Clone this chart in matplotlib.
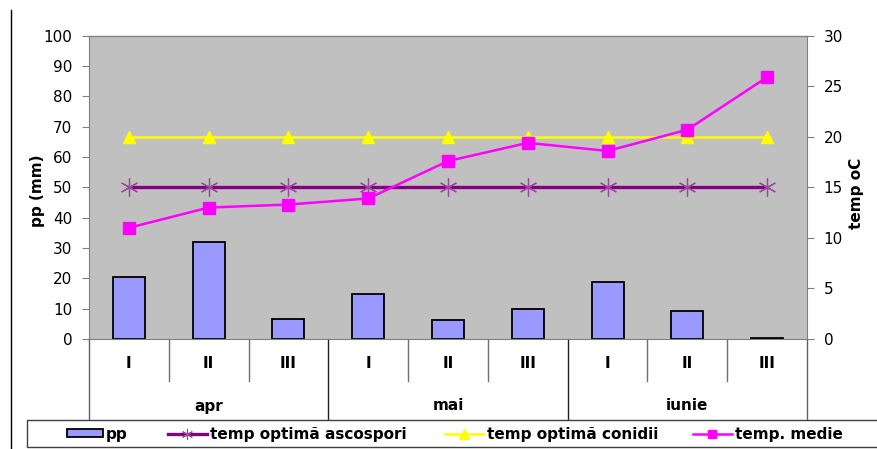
import matplotlib
matplotlib.use("Agg")
import matplotlib.pyplot as plt
from matplotlib.lines import Line2D
from matplotlib.patches import Rectangle, Patch
import matplotlib.transforms as mtransforms
import numpy as np

plt.rcParams['font.family'] = ['DejaVu Sans']

decades = ["I", "II", "III", "I", "II", "III", "I", "II", "III"]
months = ["apr", "mai", "iunie"]
pp = [20.5, 31.9, 6.5, 14.7, 6.3, 9.8, 18.7, 9.2, 0.3]
temp_ascospori = [15, 15, 15, 15, 15, 15, 15, 15, 15]
temp_conidii = [20, 20, 20, 20, 20, 20, 20, 20, 20]
temp_medie = [11.0, 13.0, 13.3, 13.9, 17.6, 19.4, 18.6, 20.7, 25.9]

FS = 11
W, H = 878, 449
fig = plt.figure(figsize=(W / 100, H / 100), dpi=100)

def fx(px):
    return px / W

def fy(py):
    return 1 - py / H

L, R, T, B = 89, 807, 35.7, 339
ax = fig.add_axes([fx(L), fy(B), fx(R) - fx(L), fy(T) - fy(B)])
ax.set_facecolor('#C0C0C0')
x = np.arange(len(pp))
ax.bar(x, pp, width=0.4, color='#9999FF', edgecolor='black', linewidth=1.3, zorder=2)
ax.set_xlim(-0.5, len(pp) - 0.5)
ax.set_ylim(0, 100)
ax.set_yticks(np.arange(0, 101, 10))
ax.set_xticks([])
for s in ['top', 'right']:
    ax.spines[s].set_visible(False)
ax.spines['left'].set_color('#808080')
ax.spines['bottom'].set_color('#808080')
ax.tick_params(axis='y', direction='out', length=5, color='#808080', pad=7, labelsize=FS)
ax.set_ylabel('pp (mm)', fontsize=FS, fontweight='bold')
ax.yaxis.set_label_coords((45 - L) / (R - L), (339 - 191) / (B - T))

ax2 = ax.twinx()
ax2.set_ylim(0, 30)
ax2.set_yticks(np.arange(0, 31, 5))
for s in ['top', 'left', 'bottom']:
    ax2.spines[s].set_visible(False)
ax2.spines['right'].set_color('#808080')
ax2.tick_params(axis='y', direction='out', length=5, color='#808080', pad=7, labelsize=FS)
ax2.set_ylabel('temp oC', fontsize=FS, fontweight='bold')
ax2.yaxis.set_label_coords((849 - L) / (R - L), (339 - 193) / (B - T))

# top border of plot area
ax.plot([0, 1], [1, 1], transform=ax.transAxes, color='#808080', lw=1, clip_on=False)

ax2.plot(x, temp_ascospori, color='#800080', lw=2.4, marker=(6, 2, 0), markersize=13,
         markeredgecolor='#9B4A9B', markeredgewidth=0.9, zorder=3)
ax2.plot(x, temp_conidii, color='#FFFF00', lw=1.8, marker='^', markersize=9,
         markeredgecolor='#FFFF00', zorder=4)
ax2.plot(x, temp_medie, color='#FF00FF', lw=1.8, marker='s', markersize=9,
         markeredgecolor='#FF00FF', zorder=5)

# two-level category axis
trans = mtransforms.blended_transform_factory(ax.transData, ax.transAxes)
hpx = B - T
y_short = -(381 - B) / hpx
y_long = -(420 - B) / hpx
y_dec = -(363 - B) / hpx
y_mon = -(406 - B) / hpx
for i in range(1, len(pp)):
    xe = i - 0.5
    if i % 3 == 0:
        ax.add_line(Line2D([xe, xe], [0, y_long], transform=trans, color='#202020', lw=1, clip_on=False))
    else:
        ax.add_line(Line2D([xe, xe], [0, y_short], transform=trans, color='#707070', lw=1, clip_on=False))
for xe in [-0.5, len(pp) - 0.5]:
    ax.add_line(Line2D([xe, xe], [0, y_long], transform=trans, color='#606060', lw=1, clip_on=False))
for i, d in enumerate(decades):
    ax.text(i, y_dec, d, transform=trans, ha='center', va='center', fontsize=FS, fontweight='bold')
for j, m in enumerate(months):
    ax.text(3 * j + 1, y_mon, m, transform=trans, ha='center', va='center', fontsize=FS, fontweight='bold')

# legend box
fig.add_artist(Rectangle((fx(27), fy(446.5)), fx(878) - fx(27), fy(420) - fy(446.5),
                         transform=fig.transFigure, facecolor='white', edgecolor='#404040', lw=1))
# left frame line
fig.add_artist(Line2D([fx(11), fx(11)], [fy(10), fy(449)], transform=fig.transFigure, color='black', lw=1))

handles = [
    Patch(facecolor='#9999FF', edgecolor='black', linewidth=1.3),
    Line2D([], [], color='#800080', lw=2.4, marker=(6, 2, 0), markersize=8, markeredgecolor='#9B4A9B', markeredgewidth=0.8),
    Line2D([], [], color='#FFFF00', lw=1.8, marker='^', markersize=7),
    Line2D([], [], color='#FF00FF', lw=1.8, marker='s', markersize=6),
]
labels = ['pp', 'temp optimă ascospori', 'temp optimă conidii', 'temp. medie']
starts = [67, 168, 445, 693]
hlens = [2.35, 2.55, 2.55, 2.55]
for h, lab, sx, hl in zip(handles, labels, starts, hlens):
    leg = fig.legend([h], [lab], loc='center left', bbox_to_anchor=(fx(sx), fy(434)),
                     frameon=False, prop={'weight': 'bold', 'size': FS}, handlelength=hl,
                     handleheight=0.5, handletextpad=0.2, borderpad=0, borderaxespad=0)

fig.savefig('out.png', dpi=100)
